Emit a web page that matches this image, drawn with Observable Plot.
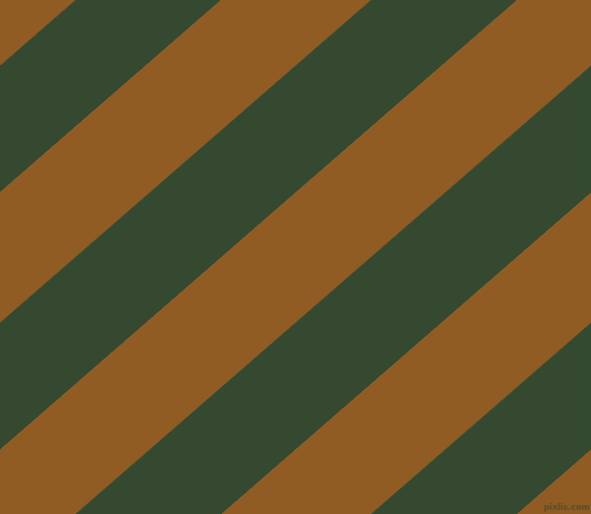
<!DOCTYPE html>
<html>
<head>
<meta charset="utf-8">
<script src="https://cdn.jsdelivr.net/npm/d3@7"></script>
<script src="https://cdn.jsdelivr.net/npm/@observablehq/plot@0.6"></script>
<style>
  html, body { margin: 0; padding: 0; background: #fff; }
  svg { display: block; }
</style>
</head>
<body>
<div id="chart"></div>
<script>
// Stripe boundaries: y-intercept (at x = 0) of each boundary line, in pixel units of the canvas
const boundaries = [-64.5, 66, 192.5, 323, 450, 580, 707, 837, 964, 1094];
const stripeColors = ["#915c24", "#344930"]; // brown, dark green (alternating)
const slope = 514 / 591;                    // vertical drop per unit x
const xEdges = [0, 591];
const watermark = ["pixlis.com"];

const W = 591, H = 514;

const rows = [];
for (let i = 0; i < boundaries.length - 1; i++) {
  for (const x of xEdges) {
    rows.push({
      stripe: i,
      color: stripeColors[i % 2],
      x,
      y1: boundaries[i] - slope * x,
      y2: boundaries[i + 1] - slope * x
    });
  }
}

const chart = Plot.plot({
  width: W,
  height: H,
  margin: 0,
  x: {domain: [0, W], axis: null},
  y: {domain: [0, H], reverse: true, axis: null},
  marks: [
    Plot.areaY(rows, {x: "x", y1: "y1", y2: "y2", z: "stripe", fill: "color", stroke: "color", strokeWidth: 0.8, clip: true}),
    Plot.text(watermark, {
      x: W - 2, y: H - 7, text: d => d,
      textAnchor: "end", fontSize: 9, fontWeight: "bold",
      fontFamily: "DejaVu Sans Condensed, DejaVu Sans, sans-serif",
      fill: "#4b4a22", stroke: "#7a5a2a", strokeWidth: 0.5, paintOrder: "fill"
    })
  ]
});
document.getElementById("chart").appendChild(chart);
</script>
</body>
</html>
